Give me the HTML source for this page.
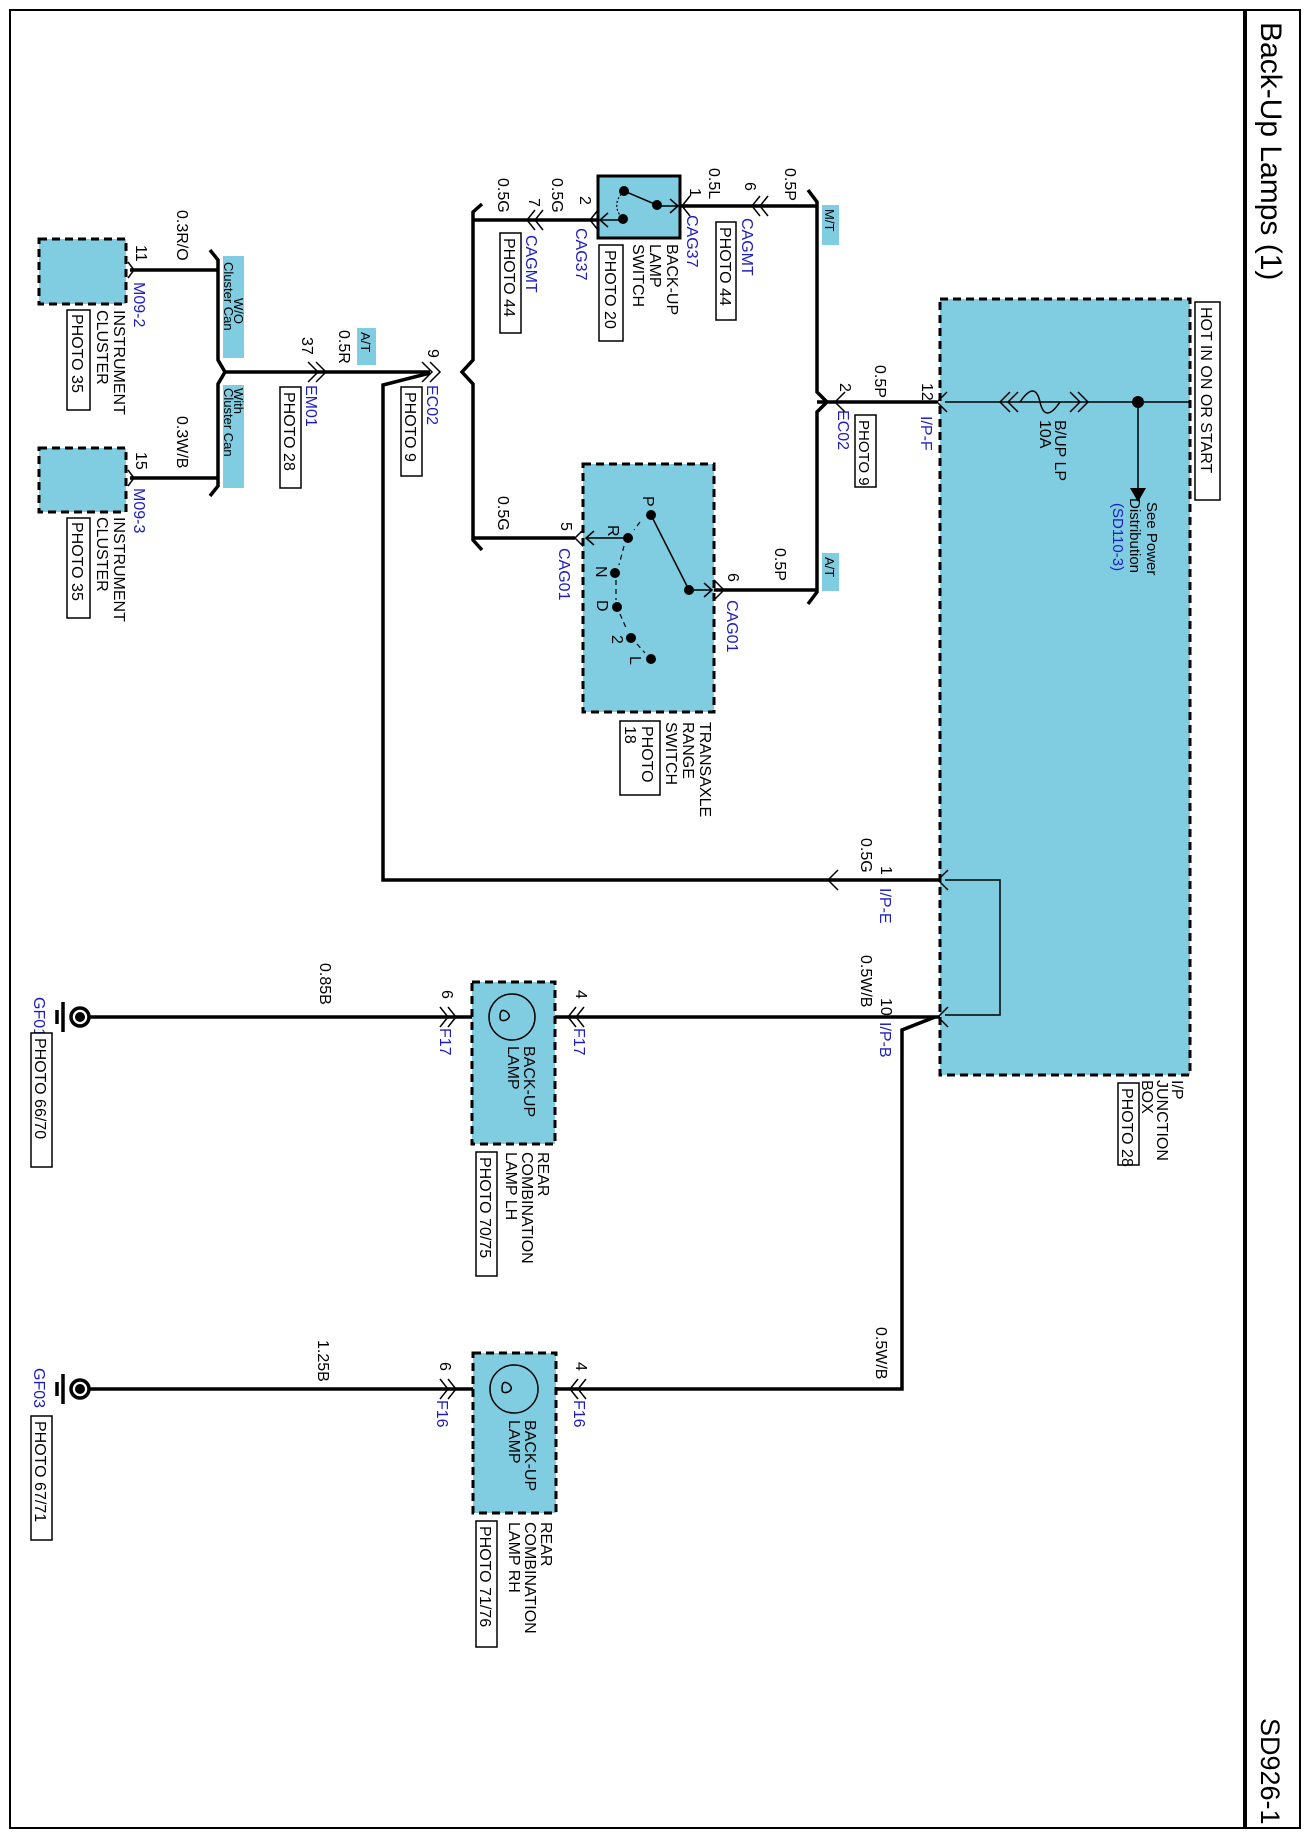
<!DOCTYPE html>
<html><head><meta charset="utf-8"><style>
html,body{margin:0;padding:0;background:#fff}
svg{display:block}
text{font-family:"Liberation Sans",Arial,sans-serif;font-size:16px;fill:#000}
.b{fill:#1c1cbf}
.w{stroke:#000;stroke-width:3.5;fill:none}
.t{stroke:#000;stroke-width:1.5;fill:none}
.box{fill:#80cce1;stroke:#000;stroke-width:3;stroke-dasharray:8,5}
.lab{fill:#80cce1}
.pb{fill:#fff;stroke:#000;stroke-width:1.5}
</style></head><body>
<svg width="1310" height="1836" viewBox="0 0 1310 1836" xmlns="http://www.w3.org/2000/svg">
<rect x="10" y="10" width="1290" height="1818" fill="none" stroke="#000" stroke-width="2"/>
<line x1="1245" y1="10" x2="1245" y2="1828" stroke="#000" stroke-width="4"/>
<text x="1261" y="22" transform="rotate(90 1261 22)" style="font-size:30px">Back-Up Lamps (1)</text>
<text x="1261" y="1718" transform="rotate(90 1261 1718)" style="font-size:27px">SD926-1</text>

<!-- I/P junction box -->
<rect class="box" x="940" y="299" width="250" height="776"/>
<rect class="pb" x="1195" y="302" width="25" height="198"/>
<text x="1201" y="307" transform="rotate(90 1201 307)">HOT IN ON OR START</text>
<line class="t" x1="945" y1="402" x2="1190" y2="402"/>
<path class="t" d="M1010 392 L1000 402 L1010 412 M1018 392 L1008 402 L1018 412"/>
<path class="t" d="M1070 392 L1080 402 L1070 412 M1078 392 L1088 402 L1078 412"/>
<path class="t" d="M1020 402 Q1035 380 1040 402 Q1045 424 1060 402" fill="#80cce1"/>
<circle cx="1138" cy="402" r="6"/>
<line class="t" x1="1138" y1="402" x2="1138" y2="490"/>
<polygon points="1130,488 1146,488 1138,502"/>
<text x="1055" y="420" transform="rotate(90 1055 420)">B/UP LP</text>
<text x="1040" y="420" transform="rotate(90 1040 420)">10A</text>
<text x="1147" y="502" transform="rotate(90 1147 502)" style="font-size:15px">See Power</text>
<text x="1130" y="498" transform="rotate(90 1130 498)" style="font-size:15px">Distribution</text>
<text x="1113" y="503" transform="rotate(90 1113 503)" class="b" style="font-size:15px">(SD110-3)</text>
<path class="t" d="M945 880 L1000 880 L1000 1015 L945 1015"/>
<text x="1172" y="1080" transform="rotate(90 1172 1080)">I/P</text>
<text x="1157" y="1080" transform="rotate(90 1157 1080)">JUNCTION</text>
<text x="1142" y="1080" transform="rotate(90 1142 1080)">BOX</text>
<rect class="pb" x="1118" y="1083" width="21" height="82"/>
<text x="1122" y="1088" transform="rotate(90 1122 1088)">PHOTO 28</text>

<!-- I/P-F -->
<line class="w" x1="817" y1="402" x2="937" y2="402"/>
<path class="t" d="M947 392 L937 402 L947 412 M845 392 L835 402 L845 412"/>
<text x="922" y="383" transform="rotate(90 922 383)">12</text>
<text x="921" y="416" transform="rotate(90 921 416)" class="b">I/P-F</text>
<text x="875" y="365" transform="rotate(90 875 365)">0.5P</text>
<text x="840" y="383" transform="rotate(90 840 383)">2</text>
<text x="838" y="410" transform="rotate(90 838 410)" class="b">EC02</text>
<rect class="pb" x="855" y="415" width="21" height="72"/>
<text x="859" y="420" transform="rotate(90 859 420)" style="font-size:15px">PHOTO 9</text>

<!-- right bus -->
<path class="w" d="M808 190 L817 202 L817 392 L827 402 L817 412 L817 592 L808 604"/>
<rect class="lab" x="822" y="205" width="17" height="40"/>
<text x="825" y="209" transform="rotate(90 825 209)" style="font-size:13px">M/T</text>
<rect class="lab" x="822" y="553" width="17" height="38"/>
<text x="825" y="557" transform="rotate(90 825 557)" style="font-size:13px">A/T</text>

<!-- back-up lamp switch -->
<line class="w" x1="680" y1="206" x2="817" y2="206"/>
<path class="t" d="M690 196 L682 206 L690 216 M760 196 L752 206 L760 216 M768 196 L760 206 L768 216"/>
<rect x="598" y="176" width="82" height="62" fill="#80cce1" stroke="#000" stroke-width="3"/>
<circle cx="624" cy="191" r="5"/><circle cx="657" cy="205" r="5"/><circle cx="623" cy="219" r="5"/>
<line class="t" x1="624" y1="191" x2="657" y2="205"/>
<path class="t" d="M657 206 L678 206 M670 199 L678 206 L670 213"/>
<path class="t" d="M623 220 L600 220 M608 213 L600 220 L608 227"/>
<path d="M624 191 Q610 205 623 219" fill="none" stroke="#000" stroke-width="1.2" stroke-dasharray="2,2"/>
<text x="785" y="168" transform="rotate(90 785 168)">0.5P</text>
<text x="745" y="182" transform="rotate(90 745 182)">6</text>
<text x="742" y="218" transform="rotate(90 742 218)" class="b">CAGMT</text>
<rect class="pb" x="716" y="222" width="20" height="98"/>
<text x="720" y="227" transform="rotate(90 720 227)">PHOTO 44</text>
<text x="709" y="168" transform="rotate(90 709 168)">0.5L</text>
<text x="690" y="188" transform="rotate(90 690 188)">1</text>
<text x="687" y="215" transform="rotate(90 687 215)" class="b">CAG37</text>
<text x="667" y="244" transform="rotate(90 667 244)">BACK-UP</text>
<text x="650" y="244" transform="rotate(90 650 244)">LAMP</text>
<text x="633" y="244" transform="rotate(90 633 244)">SWITCH</text>
<rect class="pb" x="599" y="245" width="24" height="96"/>
<text x="605" y="250" transform="rotate(90 605 250)">PHOTO 20</text>

<!-- left bus 0.5G -->
<line class="w" x1="473" y1="220" x2="598" y2="220"/>
<path class="t" d="M598 210 L590 220 L598 230 M535 210 L527 220 L535 230 M543 210 L535 220 L543 230"/>
<path class="w" d="M482 204 L473 212 L473 360 L462 372 L473 384 L473 540 L482 550"/>
<text x="580" y="196" transform="rotate(90 580 196)">2</text>
<text x="576" y="228" transform="rotate(90 576 228)" class="b">CAG37</text>
<text x="552" y="178" transform="rotate(90 552 178)">0.5G</text>
<text x="529" y="198" transform="rotate(90 529 198)">7</text>
<text x="526" y="235" transform="rotate(90 526 235)" class="b">CAGMT</text>
<rect class="pb" x="500" y="233" width="21" height="100"/>
<text x="504" y="238" transform="rotate(90 504 238)">PHOTO 44</text>
<text x="498" y="178" transform="rotate(90 498 178)">0.5G</text>
<text x="498" y="496" transform="rotate(90 498 496)">0.5G</text>

<!-- transaxle range switch -->
<line class="w" x1="473" y1="538" x2="575" y2="538"/>
<path class="t" d="M585 528 L575 538 L585 548"/>
<line class="w" x1="714" y1="590" x2="817" y2="590"/>
<path class="t" d="M714 580 L724 590 L714 600"/>
<rect class="box" x="583" y="464" width="131" height="248"/>
<path class="t" d="M628 538 L586 538 M594 531 L586 538 L594 545"/>
<path class="t" d="M689 590 L712 590 M704 583 L712 590 L704 597"/>
<line class="t" x1="651" y1="515" x2="689" y2="590"/>
<circle cx="651" cy="515" r="5"/><circle cx="628" cy="538" r="5"/><circle cx="615" cy="573" r="5"/>
<circle cx="617" cy="607" r="5"/><circle cx="631" cy="638" r="5"/><circle cx="651" cy="659" r="5"/>
<circle cx="689" cy="590" r="5"/>
<path d="M640 522 L634 530 M624 546 L619 565 M616 580 L616 600 M620 614 L627 630 M637 644 L645 653" stroke="#000" stroke-width="1.2" stroke-dasharray="5,4"/>
<text x="643" y="496" transform="rotate(90 643 496)">P</text>
<text x="608" y="525" transform="rotate(90 608 525)">R</text>
<text x="596" y="566" transform="rotate(90 596 566)">N</text>
<text x="597" y="600" transform="rotate(90 597 600)">D</text>
<text x="612" y="635" transform="rotate(90 612 635)">2</text>
<text x="630" y="656" transform="rotate(90 630 656)">L</text>
<text x="561" y="522" transform="rotate(90 561 522)">5</text>
<text x="559" y="548" transform="rotate(90 559 548)" class="b">CAG01</text>
<text x="728" y="573" transform="rotate(90 728 573)">6</text>
<text x="727" y="600" transform="rotate(90 727 600)" class="b">CAG01</text>
<text x="775" y="548" transform="rotate(90 775 548)">0.5P</text>
<text x="700" y="722" transform="rotate(90 700 722)">TRANSAXLE</text>
<text x="683" y="722" transform="rotate(90 683 722)">RANGE</text>
<text x="666" y="722" transform="rotate(90 666 722)">SWITCH</text>
<rect class="pb" x="620" y="721" width="40" height="74"/>
<text x="642" y="726" transform="rotate(90 642 726)">PHOTO</text>
<text x="625" y="726" transform="rotate(90 625 726)">18</text>

<!-- cluster -->
<rect class="box" x="39" y="239" width="87" height="65"/>
<rect class="box" x="39" y="448" width="87" height="64"/>
<line class="w" x1="130" y1="270" x2="218" y2="270"/>
<line class="w" x1="130" y1="478" x2="218" y2="478"/>
<path class="t" d="M128 262 L134 270 L128 278 M128 470 L134 478 L128 486"/>
<path class="w" d="M210 250 L218 260 L218 360 L225 372 L218 384 L218 486 L210 496"/>
<line class="w" x1="225" y1="372" x2="430" y2="372"/>
<path class="t" d="M308 362 L318 372 L308 382 M316 362 L326 372 L316 382"/>
<path class="t" d="M422 362 L432 372 L422 382 M430 362 L440 372 L430 382"/>
<path class="w" d="M430 373 L383 385 L383 880 L940 880"/>
<path class="t" d="M948 870 L938 880 L948 890 M838 870 L828 880 L838 890"/>
<rect class="lab" x="223" y="256" width="21" height="102"/>
<text x="234" y="298" transform="rotate(90 234 298)" style="font-size:13px">W/O</text>
<text x="224" y="262" transform="rotate(90 224 262)" style="font-size:13px">Cluster Can</text>
<rect class="lab" x="223" y="385" width="21" height="103"/>
<text x="234" y="388" transform="rotate(90 234 388)" style="font-size:13px">With</text>
<text x="224" y="388" transform="rotate(90 224 388)" style="font-size:13px">Cluster Can</text>
<text x="177" y="210" transform="rotate(90 177 210)">0.3R/O</text>
<text x="136" y="245" transform="rotate(90 136 245)">11</text>
<text x="134" y="282" transform="rotate(90 134 282)" class="b">M09-2</text>
<text x="114" y="310" transform="rotate(90 114 310)">INSTRUMENT</text>
<text x="97" y="310" transform="rotate(90 97 310)">CLUSTER</text>
<rect class="pb" x="67" y="310" width="23" height="100"/>
<text x="72" y="314" transform="rotate(90 72 314)">PHOTO 35</text>
<text x="177" y="416" transform="rotate(90 177 416)">0.3W/B</text>
<text x="136" y="452" transform="rotate(90 136 452)">15</text>
<text x="134" y="488" transform="rotate(90 134 488)" class="b">M09-3</text>
<text x="114" y="517" transform="rotate(90 114 517)">INSTRUMENT</text>
<text x="97" y="517" transform="rotate(90 97 517)">CLUSTER</text>
<rect class="pb" x="67" y="518" width="23" height="100"/>
<text x="72" y="522" transform="rotate(90 72 522)">PHOTO 35</text>
<text x="302" y="337" transform="rotate(90 302 337)">37</text>
<text x="339" y="330" transform="rotate(90 339 330)">0.5R</text>
<rect class="lab" x="357" y="328" width="19" height="37"/>
<text x="361" y="332" transform="rotate(90 361 332)" style="font-size:13px">A/T</text>
<text x="306" y="385" transform="rotate(90 306 385)" class="b">EM01</text>
<rect class="pb" x="280" y="387" width="21" height="101"/>
<text x="284" y="392" transform="rotate(90 284 392)">PHOTO 28</text>
<text x="428" y="349" transform="rotate(90 428 349)">9</text>
<text x="427" y="385" transform="rotate(90 427 385)" class="b">EC02</text>
<rect class="pb" x="401" y="387" width="21" height="89"/>
<text x="405" y="392" transform="rotate(90 405 392)">PHOTO 9</text>
<text x="861" y="838" transform="rotate(90 861 838)">0.5G</text>
<text x="881" y="866" transform="rotate(90 881 866)">1</text>
<text x="880" y="888" transform="rotate(90 880 888)" class="b">I/P-E</text>

<!-- LH lamp -->
<line class="w" x1="80" y1="1017" x2="940" y2="1017"/>
<path class="w" d="M935 1017 L902 1030 L902 1389 L80 1389"/>
<path class="t" d="M948 1007 L938 1017 L948 1027"/>
<rect class="box" x="472" y="982" width="83" height="162"/>
<circle cx="512" cy="1017" r="23" fill="none" stroke="#000" stroke-width="1.5"/>
<path class="t" d="M500 1017 Q500 1007 507 1012 Q512 1017 506 1020 Q500 1022 500 1017"/>
<path class="t" d="M576 1007 L568 1017 L576 1027 M584 1007 L576 1017 L584 1027"/>
<path class="t" d="M440 1007 L448 1017 L440 1027 M448 1007 L456 1017 L448 1027"/>
<text x="861" y="955" transform="rotate(90 861 955)">0.5W/B</text>
<text x="881" y="998" transform="rotate(90 881 998)">10</text>
<text x="880" y="1022" transform="rotate(90 880 1022)" class="b">I/P-B</text>
<text x="576" y="990" transform="rotate(90 576 990)">4</text>
<text x="574" y="1028" transform="rotate(90 574 1028)" class="b">F17</text>
<text x="442" y="990" transform="rotate(90 442 990)">6</text>
<text x="440" y="1028" transform="rotate(90 440 1028)" class="b">F17</text>
<text x="524" y="1046" transform="rotate(90 524 1046)">BACK-UP</text>
<text x="508" y="1046" transform="rotate(90 508 1046)">LAMP</text>
<text x="538" y="1152" transform="rotate(90 538 1152)">REAR</text>
<text x="522" y="1152" transform="rotate(90 522 1152)">COMBINATION</text>
<text x="506" y="1152" transform="rotate(90 506 1152)">LAMP LH</text>
<rect class="pb" x="476" y="1152" width="21" height="124"/>
<text x="480" y="1157" transform="rotate(90 480 1157)">PHOTO 70/75</text>
<text x="320" y="963" transform="rotate(90 320 963)">0.85B</text>
<circle cx="80" cy="1017" r="9" fill="#fff" stroke="#000" stroke-width="3.5"/>
<circle cx="80" cy="1017" r="5"/>
<path d="M63 1002 L63 1032 M57 1010 L57 1024" stroke="#000" stroke-width="3.5"/>
<text x="34" y="997" transform="rotate(90 34 997)" class="b">GF01</text>
<rect class="pb" x="31" y="1033" width="21" height="134"/>
<text x="35" y="1038" transform="rotate(90 35 1038)">PHOTO 66/70</text>

<!-- RH lamp -->
<rect class="box" x="473" y="1353" width="83" height="160"/>
<circle cx="514" cy="1389" r="24" fill="none" stroke="#000" stroke-width="1.5"/>
<path class="t" d="M502 1389 Q502 1379 509 1384 Q514 1389 508 1392 Q502 1394 502 1389"/>
<path class="t" d="M578 1379 L570 1389 L578 1399 M586 1379 L578 1389 L586 1399"/>
<path class="t" d="M440 1379 L448 1389 L440 1399 M448 1379 L456 1389 L448 1399"/>
<text x="876" y="1327" transform="rotate(90 876 1327)">0.5W/B</text>
<text x="576" y="1362" transform="rotate(90 576 1362)">4</text>
<text x="574" y="1400" transform="rotate(90 574 1400)" class="b">F16</text>
<text x="440" y="1362" transform="rotate(90 440 1362)">6</text>
<text x="437" y="1400" transform="rotate(90 437 1400)" class="b">F16</text>
<text x="525" y="1420" transform="rotate(90 525 1420)">BACK-UP</text>
<text x="509" y="1420" transform="rotate(90 509 1420)">LAMP</text>
<text x="541" y="1522" transform="rotate(90 541 1522)">REAR</text>
<text x="525" y="1522" transform="rotate(90 525 1522)">COMBINATION</text>
<text x="509" y="1522" transform="rotate(90 509 1522)">LAMP RH</text>
<rect class="pb" x="476" y="1521" width="21" height="126"/>
<text x="480" y="1526" transform="rotate(90 480 1526)">PHOTO 71/76</text>
<text x="318" y="1340" transform="rotate(90 318 1340)">1.25B</text>
<circle cx="80" cy="1389" r="9" fill="#fff" stroke="#000" stroke-width="3.5"/>
<circle cx="80" cy="1389" r="5"/>
<path d="M63 1374 L63 1404 M57 1382 L57 1396" stroke="#000" stroke-width="3.5"/>
<text x="34" y="1368" transform="rotate(90 34 1368)" class="b">GF03</text>
<rect class="pb" x="31" y="1416" width="21" height="124"/>
<text x="35" y="1421" transform="rotate(90 35 1421)">PHOTO 67/71</text>
</svg>
</body></html>
